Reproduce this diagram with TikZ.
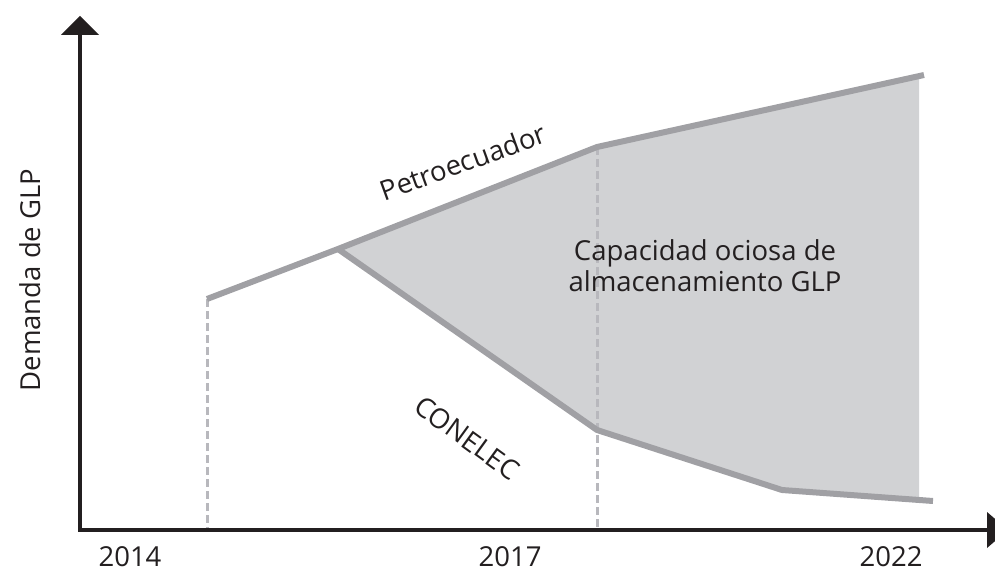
\documentclass[tikz,border=0pt]{standalone}
\usepackage{fontspec}
\setmainfont{Open Sans}
\definecolor{fillg}{HTML}{D1D2D4}
\definecolor{lineg}{HTML}{A0A0A4}
\definecolor{dashg}{HTML}{B8B8BD}
\definecolor{axisk}{HTML}{231F20}
\tikzset{
  curve/.style={draw=lineg, line width=6pt},
  guide/.style={draw=dashg, line width=3pt, dash pattern=on 8pt off 4pt},
  axisline/.style={draw=axisk, line width=4pt},
  lbl/.style={text=axisk, inner sep=0pt, font=\fontsize{27.5}{31}\selectfont}
}
\begin{document}
\begin{tikzpicture}[x=1pt,y=-1pt]
\useasboundingbox (0,0) rectangle (995,572);
\clip (0,0) rectangle (995,572);
% coordinates
\coordinate (p0) at (207,299);
\coordinate (p1) at (338,249);
\coordinate (p2) at (597,147);
\coordinate (p3) at (924,75);
\coordinate (c1) at (597,430);
\coordinate (c2) at (782,490);
\coordinate (c3) at (933,501);
\coordinate (b0) at (207,530);
\coordinate (b1) at (597,530);
\coordinate (o) at (80,530);
\coordinate (ytop) at (80,34);
\coordinate (xend) at (988,530);
% filled area
\fill[fillg] (p1) -- (p2) -- (919,78) -- (919,501) -- (c2) -- (c1) -- cycle;
% guides
\draw[guide] (p0) -- (b0);
\draw[guide] (p2) -- (b1);
% curves
\draw[curve] (p0) -- (p1) -- (p2) -- (p3);
\draw[curve] (p1) -- (c1) -- (c2) -- (c3);
% axes
\draw[axisline] (ytop) -- (o) -- (xend);
\fill[axisk] (80,16) -- (61,35) -- (99,35) -- cycle;
\fill[axisk] (987,512) -- (987,548) -- (1008,530) -- cycle;
% labels
\node[lbl] (y14) at (130,557) {2014};
\node[lbl] (y17) at (510,557) {2017};
\node[lbl] (y22) at (891,557) {2022};
\node[lbl, rotate=90] (ylab) at (30,280) {Demanda de GLP};
\node[lbl, rotate=20] (petro) at (463,162) {Petroecuador};
\node[lbl, rotate=-36] (conel) at (467,438) {CONELEC};
\node[lbl, align=center] (cap) at (705,266) {Capacidad ociosa de\\almacenamiento GLP};
\end{tikzpicture}
\end{document}
